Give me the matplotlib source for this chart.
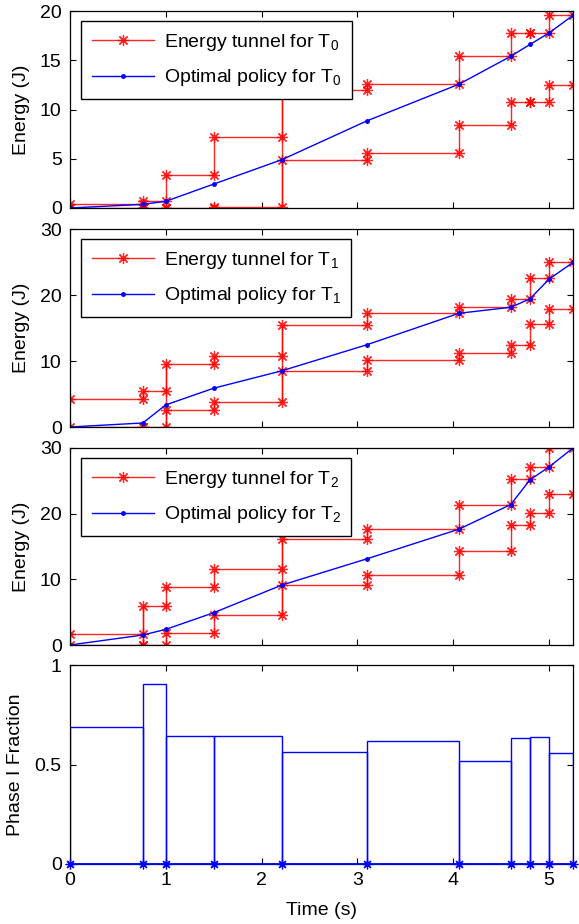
import numpy as np
import matplotlib
matplotlib.use("Agg")
import matplotlib.pyplot as plt

plt.rcParams['font.family'] = ['Liberation Sans', 'DejaVu Sans']
plt.rcParams['mathtext.default'] = 'regular'

# ---- data ----
times = [0, 0.76, 1.0, 1.5, 2.21, 3.1, 4.06, 4.6, 4.8, 5.0, 5.25]

upper_T0 = [0.37, 0.68, 3.31, 7.23, 12.0, 12.6, 15.44, 17.8, 17.8, 19.56]
lower_T0 = [0.0, 0.0, 0.0, 0.15, 4.9, 5.54, 8.38, 10.74, 10.74, 12.5]
opt_T0 = [0, 0.37, 0.68, 2.43, 4.9, 8.85, 12.57, 15.4, 16.6, 17.77, 19.56]
links_T0 = [2.21]

upper_T1 = [4.26, 5.47, 9.53, 10.74, 15.41, 17.23, 18.14, 19.41, 22.55, 24.94]
lower_T1 = [0.0, 0.0, 2.53, 3.75, 8.51, 10.14, 11.25, 12.42, 15.61, 17.94]
opt_T1 = [0, 0.61, 3.35, 5.88, 8.51, 12.47, 17.23, 18.14, 19.41, 22.4, 24.94]
links_T1 = [1.0, 2.21]

upper_T2 = [1.72, 5.88, 8.82, 11.56, 16.12, 17.64, 21.39, 25.29, 27.12, 30.0]
lower_T2 = [0.0, 0.0, 1.88, 4.61, 9.12, 10.59, 14.34, 18.25, 20.07, 22.96]
opt_T2 = [0, 1.52, 2.38, 4.92, 9.12, 13.13, 17.64, 21.39, 25.14, 27.12, 30.0]
links_T2 = [0.76, 2.21]

phase1_fraction = [0.689, 0.904, 0.644, 0.642, 0.561, 0.617, 0.516, 0.634, 0.637, 0.556]

energy_ylims = [20, 30, 30]
energy_yticks = [[0, 5, 10, 15, 20], [0, 10, 20, 30], [0, 10, 20, 30]]
xticks = [0, 1, 2, 3, 4, 5]
frac_yticks = [0, 0.5, 1]


def stair_xy(t, v):
    t = np.asarray(t, float)
    v = np.asarray(v, float)
    xs = np.repeat(t, 2)[1:-1]
    ys = np.repeat(v, 2)
    return xs, ys


W, H = 579, 924
fig = plt.figure(figsize=(W / 100, H / 100), dpi=100)

left = 70 / W
width = 503 / W
boxes = [(11, 208), (229, 427), (448, 645), (665, 864)]
axes = []
for top, bot in boxes:
    ax = fig.add_axes([left, 1 - bot / H, width, (bot - top) / H])
    axes.append(ax)

FS = 14
ASTER = (8, 2, 0)
RED_KW = dict(color='red', lw=1.0, alpha=0.85)
tunnels = [(upper_T0, lower_T0, opt_T0, links_T0),
           (upper_T1, lower_T1, opt_T1, links_T1),
           (upper_T2, lower_T2, opt_T2, links_T2)]
for i, (up, lo, op, links) in enumerate(tunnels):
    ax = axes[i]
    xs, ys = stair_xy(times, up)
    ax.plot(xs, ys, marker=ASTER, ms=8, mew=0.9, label='Energy tunnel for T$_%d$' % i, **RED_KW)
    xs, ys = stair_xy(times, lo)
    ax.plot(xs, ys, marker=ASTER, ms=8, mew=0.9, **RED_KW)
    for tl in links:
        k = times.index(tl)
        ymin = min(lo[k - 1], lo[k])
        ymax = max(up[k - 1], up[k])
        ax.vlines(tl, ymin, ymax, **RED_KW)
    ax.plot(times, op, color='blue', lw=1.0, marker='.', ms=5,
            label='Optimal policy for T$_%d$' % i)
    ax.set_ylim(0, energy_ylims[i])
    ax.set_yticks(energy_yticks[i])
    ax.set_xticklabels([])
    ax.set_ylabel('Energy (J)', fontsize=FS)
    ax.yaxis.set_label_coords(-0.080, 0.5)
    leg = ax.legend(loc='upper left', bbox_to_anchor=(0.022, 0.949), borderaxespad=0,
                    fontsize=14, fancybox=False, framealpha=1, edgecolor='black',
                    handlelength=3.2, handletextpad=0.5, labelspacing=0.75,
                    borderpad=0.55)
    leg.get_frame().set_linewidth(1.0)

ax = axes[3]
dt = np.diff(times)
ax.bar(times[:-1], phase1_fraction, width=dt, align='edge', fill=False,
       edgecolor='blue', linewidth=1.0)
ax.plot(times, np.zeros(len(times)), color='blue', lw=1.3, marker=ASTER, ms=7, mew=0.9,
        clip_on=False, zorder=5)
ax.set_ylim(0, 1)
ax.set_yticks(frac_yticks)
ax.set_yticklabels(['0', '0.5', '1'])
ax.set_ylabel('Phase I Fraction', fontsize=FS)
ax.yaxis.set_label_coords(-0.091, 0.5)
ax.set_xlabel('Time (s)', fontsize=FS, labelpad=9)

for ax in axes:
    ax.set_xlim(times[0], times[-1])
    ax.set_xticks(xticks)
    ax.tick_params(direction='in', top=True, right=True, length=4, width=0.8,
                   labelsize=FS, pad=6)
    for s in ax.spines.values():
        s.set_linewidth(0.9)

fig.savefig('out.png', dpi=100)
